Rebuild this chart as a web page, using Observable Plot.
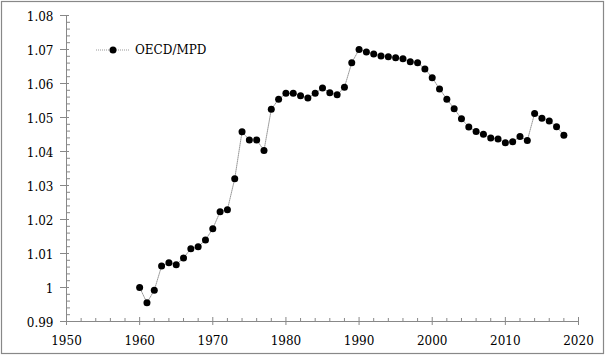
<!DOCTYPE html>
<html>
<head>
<meta charset="utf-8">
<script src="https://cdn.jsdelivr.net/npm/d3@7"></script>
<script src="https://cdn.jsdelivr.net/npm/@observablehq/plot@0.6"></script>
<style>
  html, body { margin: 0; padding: 0; background: #fff; }
  #chart { width: 607px; height: 357px; }
  #chart svg, #chart svg text { font-family: "DejaVu Serif", serif !important; }
</style>
</head>
<body>
<div id="chart"></div>
<script>
const years = [1960,1961,1962,1963,1964,1965,1966,1967,1968,1969,
  1970,1971,1972,1973,1974,1975,1976,1977,1978,1979,
  1980,1981,1982,1983,1984,1985,1986,1987,1988,1989,
  1990,1991,1992,1993,1994,1995,1996,1997,1998,1999,
  2000,2001,2002,2003,2004,2005,2006,2007,2008,2009,
  2010,2011,2012,2013,2014,2015,2016,2017,2018];
const values = [1.0000,0.9955,0.9992,1.0063,1.0073,1.0067,1.0087,1.0114,1.0120,1.0140,
  1.0173,1.0223,1.0229,1.0320,1.0458,1.0434,1.0434,1.0403,1.0524,1.0554,
  1.0571,1.0571,1.0564,1.0557,1.0571,1.0587,1.0573,1.0567,1.0589,1.0661,
  1.0700,1.0693,1.0687,1.0681,1.0679,1.0676,1.0673,1.0664,1.0661,1.0643,
  1.0617,1.0584,1.0554,1.0526,1.0496,1.0472,1.0459,1.0451,1.0440,1.0437,
  1.0426,1.0429,1.0444,1.0432,1.0512,1.0498,1.0490,1.0473,1.0448];
const seriesName = "OECD/MPD";
const xTicks = [1950,1960,1970,1980,1990,2000,2010,2020];
const yTicks = [0.99,1.00,1.01,1.02,1.03,1.04,1.05,1.06,1.07,1.08];
const xMinor = d3.range(1952, 2020, 2).filter(d => d % 10 !== 0);
const yMinor = d3.range(0, 45).map(i => +(0.99 + i * 0.002).toFixed(3)).filter((d, i) => i % 5 !== 0);

const data = years.map((y, i) => ({year: y, value: values[i]}));

const W = 607, H = 357;
const mL = 66, mR = 29, mT = 15, mB = 36;
const fw = W - mL - mR, fh = H - mT - mB;
const axisColor = "#888";

const chart = Plot.plot({
  width: W, height: H,
  marginLeft: mL, marginRight: mR, marginTop: mT, marginBottom: mB,
  style: {fontFamily: "'DejaVu Serif', serif", fontSize: "12px", color: "#000", background: "#fff", overflow: "visible"},
  x: {domain: [1950, 2020]},
  y: {domain: [0.99, 1.08]},
  marks: [
    Plot.ruleY([0.99], {stroke: axisColor}),
    Plot.ruleX([1950], {stroke: axisColor}),
    Plot.tickX(xMinor, {x: d => d, stroke: axisColor, insetTop: fh - 3}),
    Plot.tickY(yMinor, {y: d => d, stroke: axisColor, insetRight: fw - 4}),
    Plot.tickX(xTicks, {x: d => d, stroke: axisColor, insetTop: fh - 4, insetBottom: -4}),
    Plot.tickY(yTicks, {y: d => d, stroke: axisColor, insetRight: fw - 3, insetLeft: -6}),
    Plot.axisX({ticks: xTicks, tickSize: 0, tickPadding: 15, tickFormat: d => String(d), label: null}),
    Plot.axisY({ticks: yTicks, tickSize: 0, tickPadding: 13, dy: 1.5, tickFormat: d => String(+d.toFixed(2)), label: null}),
    Plot.line(data, {x: "year", y: "value", stroke: "#999", strokeWidth: 1, strokeDasharray: "1,1"}),
    Plot.dot(data, {x: "year", y: "value", r: 3.5, fill: "#000", stroke: "none"})
  ]
});

const svg = d3.select(chart);
svg.attr("font-family", "'DejaVu Serif', serif").attr("font-size", 12);
svg.insert("rect", ":first-child")
  .attr("x", 1.5).attr("y", 1.5).attr("width", 602).attr("height", 352)
  .attr("fill", "#fff").attr("stroke", axisColor).attr("stroke-width", 1.2);

const lg = svg.append("g").attr("transform", "translate(96,50)");
lg.append("line").attr("x1", 0).attr("x2", 34).attr("y1", 0).attr("y2", 0)
  .attr("stroke", "#999").attr("stroke-dasharray", "1,1");
lg.append("circle").attr("cx", 17).attr("cy", 0).attr("r", 3.5).attr("fill", "#000");
lg.append("text").attr("x", 39).attr("y", 0).attr("dy", "0.35em")
  .attr("text-anchor", "start")
  .attr("font-size", 12)
  .text(seriesName);

document.getElementById("chart").appendChild(chart);
</script>
</body>
</html>
